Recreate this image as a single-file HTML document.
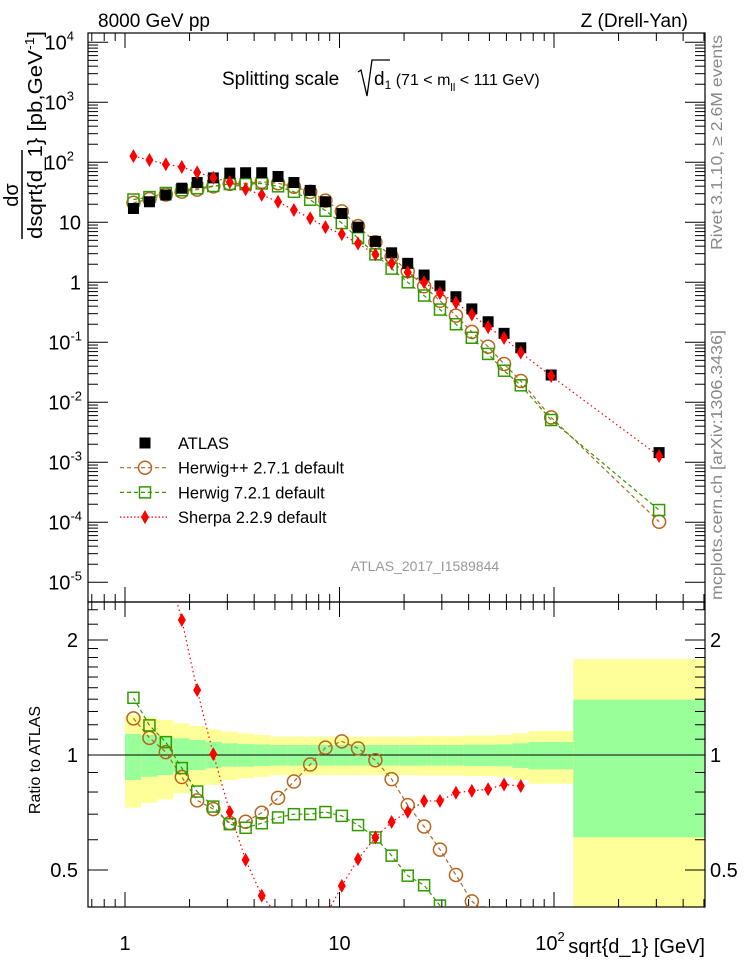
<!DOCTYPE html>
<html><head><meta charset="utf-8"><style>
html,body{margin:0;padding:0;background:#fff;width:746px;height:972px;overflow:hidden}
svg{display:block;font-family:"Liberation Sans",Arial,sans-serif}
</style></head><body>
<svg id="c" width="746" height="972" viewBox="0 0 746 972" xmlns="http://www.w3.org/2000/svg">
<defs>
<clipPath id="cm"><rect x="88" y="33" width="617" height="569"/></clipPath>
<clipPath id="cr"><rect x="88" y="602" width="617" height="305"/></clipPath>
</defs>
<g id="bands" clip-path="url(#cr)"></g>
<g id="axes"></g>
<g id="series-main" clip-path="url(#cm)"></g>
<g id="series-ratio" clip-path="url(#cr)"></g>
<text x="98" y="27" font-size="19">8000 GeV pp</text>
<text x="688" y="27" font-size="19" text-anchor="end">Z (Drell-Yan)</text>
<g>
<text x="222" y="85" font-size="19">Splitting scale</text>
<path d="M358,72 L361,70 L367,96 L372,60 L390,60" fill="none" stroke="#000" stroke-width="1.3"/>
<text x="374" y="85" font-size="19">d<tspan font-size="12" dy="4">1</tspan><tspan dy="-4" font-size="16"> (71 &lt; m</tspan><tspan font-size="11" dy="6">ll</tspan><tspan dy="-6" font-size="16"> &lt; 111 GeV)</tspan></text>
</g>
<g>
<text transform="translate(18,195) rotate(-90)" font-size="20" text-anchor="middle">dσ</text>
<line x1="22" y1="150" x2="22" y2="239" stroke="#000" stroke-width="1.5"/>
<text transform="translate(42,239) rotate(-90)" font-size="20" textLength="208" lengthAdjust="spacingAndGlyphs">dsqrt{d_1} [pb,GeV<tspan font-size="13" dy="-8">-1</tspan><tspan dy="8">]</tspan></text>
</g>
<text transform="translate(722,250) rotate(-90)" font-size="16" fill="#888" textLength="215" lengthAdjust="spacingAndGlyphs">Rivet 3.1.10, ≥ 2.6M events</text>
<text transform="translate(722,600) rotate(-90)" font-size="16" fill="#888" textLength="270" lengthAdjust="spacingAndGlyphs">mcplots.cern.ch [arXiv:1306.3436]</text>
<text x="425" y="571" font-size="14" fill="#999" text-anchor="middle">ATLAS_2017_I1589844</text>
<text transform="translate(40,760) rotate(-90)" font-size="16" text-anchor="middle">Ratio to ATLAS</text>
<text x="705" y="953" font-size="20" text-anchor="end">sqrt{d_1} [GeV]</text>
<g id="legend"></g>
</svg>
<script>
const xPoints=[1.095,1.30,1.55,1.84,2.17,2.58,3.08,3.65,4.34,5.17,6.13,7.3,8.6,10.25,12.2,14.7,17.5,20.8,24.8,29.4,34.9,41.4,49.3,58.5,70,97,309];
const atlasVals=[17,22,28.5,37,46,55,66,67,67,58,46,34,22,14,8.3,4.8,3.1,2.07,1.32,0.87,0.575,0.36,0.22,0.141,0.081,0.0285,0.00145];
const herwigppVals=[21.2,24.4,29,32.4,35,39.7,43.8,44.8,47.3,44.8,39.2,32.1,23,15.2,8.64,4.65,2.68,1.53,0.858,0.492,0.279,0.149,0.0845,0.0435,0.0227,0.0056,0.000102];
const herwig7Vals=[24,26.3,30.8,34.2,36.9,40.3,43.5,43.2,44.4,39.8,32.2,23.8,15.6,9.7,5.44,2.92,1.69,1.0,0.602,0.351,0.2,0.119,0.064,0.0336,0.0192,0.00507,0.00016];
const sherpaVals=[127,109,93,83.5,68,55.3,46.8,35.6,28.7,22,16,11.7,8.3,6.36,4.43,2.92,2.07,1.47,1.0,0.66,0.458,0.29,0.179,0.118,0.0672,0.0274,0.00127];
const binEdges=[1,1.19,1.41,1.68,2.0,2.37,2.82,3.36,4.0,4.75,5.65,6.72,8.0,9.5,11.3,13.4,16,19,22.6,26.9,32,38,45.2,53.7,64,76,123,520];
const totUp=[1.273,1.255,1.235,1.21,1.191,1.167,1.151,1.139,1.128,1.117,1.117,1.117,1.117,1.117,1.117,1.117,1.117,1.117,1.12,1.12,1.12,1.125,1.125,1.128,1.139,1.156,1.783];
const totDn=[0.728,0.75,0.765,0.794,0.831,0.835,0.86,0.869,0.877,0.886,0.886,0.886,0.886,0.886,0.886,0.886,0.886,0.886,0.884,0.884,0.884,0.88,0.88,0.877,0.86,0.841,0.3];
const statUp=[1.135,1.128,1.117,1.106,1.095,1.083,1.073,1.068,1.066,1.062,1.062,1.062,1.062,1.062,1.062,1.062,1.062,1.062,1.062,1.062,1.062,1.064,1.064,1.066,1.073,1.081,1.396];
const statDn=[0.86,0.877,0.886,0.904,0.913,0.923,0.932,0.932,0.936,0.938,0.938,0.938,0.938,0.938,0.938,0.938,0.938,0.938,0.938,0.938,0.938,0.936,0.936,0.934,0.925,0.917,0.609];
const ratioPointCount=25;

const NS='http://www.w3.org/2000/svg';
const L=Math.log10;
const X=v=>125+214.5*L(v);
const Y=v=>282.3-60*L(v);
const R=r=>755-382*L(r);
function mk(tag,attrs,parent){const e=document.createElementNS(NS,tag);for(const k in attrs)e.setAttribute(k,attrs[k]);parent.appendChild(e);return e;}
const axes=document.getElementById('axes');
const bands=document.getElementById('bands');
const gm=document.getElementById('series-main');
const gr=document.getElementById('series-ratio');

for(let i=0;i<totUp.length;i++){
  const x0=X(binEdges[i]),x1=X(binEdges[i+1]);
  const a=mk('rect',{x:x0,y:R(totUp[i]),width:x1-x0,height:R(totDn[i])-R(totUp[i]),fill:'#ffff99'},bands);
  
  
  const b=mk('rect',{x:x0,y:R(statUp[i]),width:x1-x0,height:R(statDn[i])-R(statUp[i]),fill:'#99ff99'},bands);
  
  
}
mk('rect',{x:88,y:33,width:617,height:569,fill:'none',stroke:'#000','stroke-width':1.2},axes);
mk('rect',{x:88,y:602,width:617,height:305,fill:'none',stroke:'#000','stroke-width':1.2},axes);
const one=mk('line',{x1:88,x2:705,y1:R(1),y2:R(1),stroke:'#000','stroke-width':1},axes);



for(let d=-1;d<=2;d++){for(let k=1;k<=9;k++){const v=k*Math.pow(10,d);const x=X(v);if(x<88||x>705)continue;
  const len=k===1?15:8;
  [[33,1],[602,-1],[602,1],[907,-1]].forEach(([y0,s])=>mk('line',{x1:x,x2:x,y1:y0,y2:y0+s*len,stroke:'#000','stroke-width':1},axes));
}}
[['1',1],['10',10]].forEach(([t,v])=>{const e=mk('text',{x:X(v),y:950,'font-size':20,'text-anchor':'middle'},axes);e.textContent=t;});
{const e=mk('text',{x:X(100)-4,y:950,'font-size':20,'text-anchor':'middle'},axes);e.innerHTML='10<tspan font-size="13" dy="-9">2</tspan>';}

for(let d=-5;d<=4;d++){for(let k=1;k<=9;k++){const v=k*Math.pow(10,d);const y=Y(v);if(y<33||y>602)continue;
  const len=k===1?20:10;
  mk('line',{x1:88,x2:88+len,y1:y,y2:y,stroke:'#000','stroke-width':1},axes);
  mk('line',{x1:705,x2:705-len,y1:y,y2:y,stroke:'#000','stroke-width':1},axes);
}}
const ylab={'-5':'10<tspan font-size="13" dy="-9">-5</tspan>','-4':'10<tspan font-size="13" dy="-9">-4</tspan>','-3':'10<tspan font-size="13" dy="-9">-3</tspan>','-2':'10<tspan font-size="13" dy="-9">-2</tspan>','-1':'10<tspan font-size="13" dy="-9">-1</tspan>','0':'1','1':'10','2':'10<tspan font-size="13" dy="-9">2</tspan>','3':'10<tspan font-size="13" dy="-9">3</tspan>','4':'10<tspan font-size="13" dy="-9">4</tspan>'};
for(let d=-5;d<=4;d++){const hasSup=(d<0||d>1);const e=mk('text',{x:hasSup?(d<0?82:74):81,y:Y(Math.pow(10,d))+7,'font-size':20,'text-anchor':'end'},axes);
  e.innerHTML=ylab[String(d)];
  
  }

const rt=[];for(let r=0.4;r<2.05;r+=0.1)rt.push(+r.toFixed(1));rt.push(2.2,2.4);
rt.forEach(r=>{const y=R(r);if(y<602||y>907)return;const maj=(r===0.5||r===1||r===2);const len=maj?20:10;
  mk('line',{x1:88,x2:88+len,y1:y,y2:y,stroke:'#000','stroke-width':1},axes);
  mk('line',{x1:705,x2:705-len,y1:y,y2:y,stroke:'#000','stroke-width':1},axes);});
[['2',2],['1',1],['0.5',0.5]].forEach(([t,v])=>{
  const a=mk('text',{x:78,y:R(v)+7,'font-size':20,'text-anchor':'end'},axes);a.textContent=t;
  
  
  const b=mk('text',{x:710,y:R(v)+7,'font-size':20},axes);b.textContent=t;
  
  });

function marker(g,kind,x,y,name){let e;
  if(kind==='sq')e=mk('rect',{x:x-5.5,y:y-5.5,width:11,height:11,fill:'#000'},g);
  else if(kind==='circ')e=mk('circle',{cx:x,cy:y,r:6.5,fill:'none',stroke:'#b5651d','stroke-width':1.5},g);
  else if(kind==='osq')e=mk('rect',{x:x-5.5,y:y-5.5,width:11,height:11,fill:'none',stroke:'#339900','stroke-width':1.5},g);
  else e=mk('path',{d:`M${x},${y-7} L${x+4},${y} L${x},${y+7} L${x-4},${y} Z`,fill:'#ff0000'},g);
  
  }
function series(g,vals,fy,kind,color,dash,name,line,n){
  const idx=vals.map((v,i)=>i).slice(0,n||vals.length);
  if(line){const p=mk('polyline',{points:idx.map(i=>X(xPoints[i])+','+fy(vals[i],i)).join(' '),fill:'none',stroke:color,'stroke-width':1.2,'stroke-dasharray':dash},g);
    
    }
  idx.forEach(i=>marker(g,kind,X(xPoints[i]),fy(vals[i],i),name+'-point'));}
const my=v=>Y(v);
series(gm,herwigppVals,my,'circ','#b5651d','4,3','herwigpp',true);
series(gm,herwig7Vals,my,'osq','#339900','4,3','herwig7',true);
series(gm,atlasVals,my,'sq','#000','','atlas',false);
series(gm,sherpaVals,my,'dia','#ff0000','1.5,3','sherpa',true);
const ry=(v,i)=>R(v/atlasVals[i]);
series(gr,herwigppVals,ry,'circ','#b5651d','4,3','herwigpp-ratio',true,ratioPointCount);
series(gr,herwig7Vals,ry,'osq','#339900','4,3','herwig7-ratio',true,ratioPointCount);
series(gr,sherpaVals,ry,'dia','#ff0000','1.5,3','sherpa-ratio',true,ratioPointCount);

const lg=document.getElementById('legend');
const items=[['ATLAS','sq','#000',''],['Herwig++ 2.7.1 default','circ','#b5651d','4,3'],['Herwig 7.2.1 default','osq','#339900','4,3'],['Sherpa 2.2.9 default','dia','#ff0000','1.5,2']];
items.forEach((it,i)=>{const y=443+i*24.7;
  const g=mk('g',{},lg);
  
  
  if(it[3])mk('line',{x1:120,x2:168,y1:y,y2:y,stroke:it[2],'stroke-width':1.2,'stroke-dasharray':it[3]},g);
  marker(g,it[1],145,y,'legend-marker');
  const t=mk('text',{x:178,y:y+6,'font-size':16.5},g);t.textContent=it[0];});
</script>
</body></html>
